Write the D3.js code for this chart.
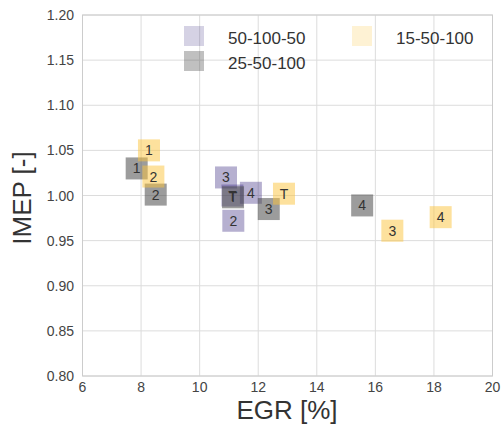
<!DOCTYPE html>
<html lang="en">
  <head>
    <meta charset="UTF-8" />
    <title>IMEP vs EGR</title>
    <script src="https://d3js.org/d3.v7.min.js"></script>
    <style>
      body { margin: 0; background: #fff; }
      svg { font-family: "Liberation Sans", Arial, sans-serif; }
    </style>
  </head>
  <body>
    <svg width="501" height="428"></svg>
    <script>
      // series data: EGR [%], IMEP [-], point label
      let series = ["50-100-50", "25-50-100", "15-50-100"];
      let purpleEGR = [10.9, 11.12, 11.75, 11.15];
      let purpleIMEP = [1.02, 1.0, 1.003, 0.972];
      let purpleLbl = ["3", "T", "4", "2"];
      let grayEGR = [7.85, 8.5, 12.36, 15.55, 11.14];
      let grayIMEP = [1.03, 1.001, 0.985, 0.989, 0.998];
      let grayLbl = ["1", "2", "3", "4", "T"];
      let yellowEGR = [8.27, 8.42, 12.88, 16.58, 18.23];
      let yellowIMEP = [1.05, 1.021, 1.002, 0.961, 0.976];
      let yellowLbl = ["1", "2", "T", "3", "4"];
      let xTicks = [6, 8, 10, 12, 14, 16, 18, 20];
      let yTicks = [0.8, 0.85, 0.9, 0.95, 1.0, 1.05, 1.1, 1.15, 1.2];

      let colors = ["#2d1e78", "#4a4a4a", "#fcc43c"];
      let alphas = [0.35, 0.55, 0.5];

      let svg = d3.select("svg");
      let x = d3.scaleLinear().domain([6, 20]).range([82.5, 492.5]);
      let y = d3.scaleLinear().domain([0.8, 1.2]).range([376, 15]);

      // grid
      svg.append("g")
        .selectAll("line")
        .data(xTicks)
        .enter()
        .append("line")
        .attr("x1", (d) => x(d))
        .attr("x2", (d) => x(d))
        .attr("y1", y(0.8))
        .attr("y2", y(1.2))
        .attr("stroke", "#dcdcdc")
        .attr("stroke-width", 1);
      svg.append("g")
        .selectAll("line")
        .data(yTicks)
        .enter()
        .append("line")
        .attr("x1", x(6))
        .attr("x2", x(20))
        .attr("y1", (d) => y(d))
        .attr("y2", (d) => y(d))
        .attr("stroke", "#dcdcdc")
        .attr("stroke-width", 1);

      // frame
      svg.append("rect")
        .attr("x", x(6))
        .attr("y", y(1.2))
        .attr("width", x(20) - x(6))
        .attr("height", y(0.8) - y(1.2))
        .attr("fill", "none")
        .attr("stroke", "#cccccc");

      // tick labels
      svg.append("g")
        .selectAll("text")
        .data(xTicks)
        .enter()
        .append("text")
        .attr("x", (d) => x(d))
        .attr("y", 392)
        .attr("text-anchor", "middle")
        .attr("font-size", 14)
        .attr("fill", "#444")
        .text((d) => d);
      svg.append("g")
        .selectAll("text")
        .data(yTicks)
        .enter()
        .append("text")
        .attr("x", 74)
        .attr("y", (d) => y(d) + 5)
        .attr("text-anchor", "end")
        .attr("font-size", 14)
        .attr("fill", "#444")
        .text((d) => d.toFixed(2));

      // axis labels
      svg.append("text")
        .attr("x", 287)
        .attr("y", 419)
        .attr("text-anchor", "middle")
        .attr("font-size", 26)
        .attr("fill", "#333")
        .text("EGR [%]");
      svg.append("text")
        .attr("transform", "translate(31,198) rotate(-90)")
        .attr("text-anchor", "middle")
        .attr("font-size", 26)
        .attr("fill", "#333")
        .text("IMEP [-]");

      // markers
      let groups = [
        d3.zip(purpleEGR, purpleIMEP, purpleLbl),
        d3.zip(grayEGR, grayIMEP, grayLbl),
        d3.zip(yellowEGR, yellowIMEP, yellowLbl),
      ];
      let size = 22;
      groups.forEach((pts, i) => {
        svg.append("g")
          .selectAll("rect")
          .data(pts)
          .enter()
          .append("rect")
          .attr("x", (d) => x(d[0]) - size / 2)
          .attr("y", (d) => y(d[1]) - size / 2)
          .attr("width", size)
          .attr("height", size)
          .attr("fill", colors[i])
          .attr("fill-opacity", alphas[i]);
      });
      groups.forEach((pts) => {
        svg.append("g")
          .selectAll("text")
          .data(pts)
          .enter()
          .append("text")
          .attr("x", (d) => x(d[0]))
          .attr("y", (d) => y(d[1]) + 5)
          .attr("text-anchor", "middle")
          .attr("font-size", 14)
          .attr("fill", "#333")
          .text((d) => d[2]);
      });

      // legend
      let legendPos = [
        [184, 26],
        [184, 51],
        [352, 26],
      ];
      let legendAlpha = [0.2, 0.35, 0.22];
      series.forEach((s, i) => {
        let p = legendPos[i];
        svg.append("rect")
          .attr("x", p[0])
          .attr("y", p[1])
          .attr("width", 20)
          .attr("height", 20)
          .attr("fill", colors[i])
          .attr("fill-opacity", legendAlpha[i]);
        svg.append("text")
          .attr("x", p[0] + 44)
          .attr("y", p[1] + 18)
          .attr("font-size", 17)
          .attr("fill", "#333")
          .text(s);
      });
    </script>
  </body>
</html>
